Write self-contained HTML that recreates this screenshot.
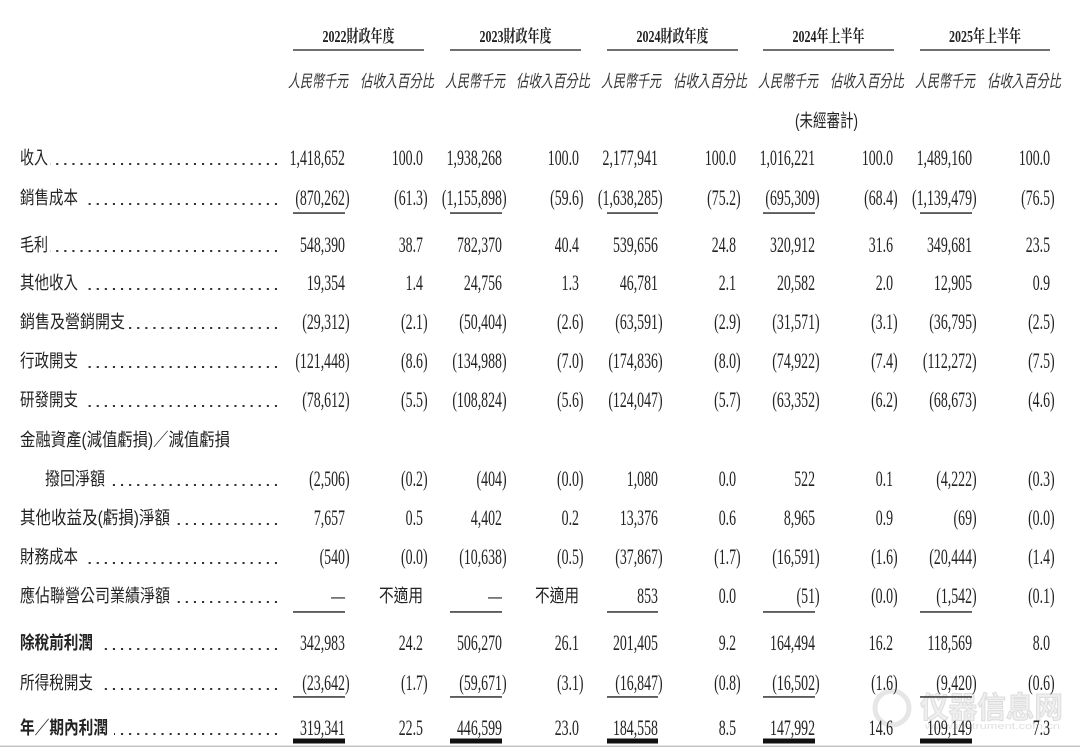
<!DOCTYPE html>
<html>
<head>
<meta charset="utf-8">
<style>
html,body{margin:0;padding:0;background:#fff;}
body{width:1080px;height:749px;overflow:hidden;}
svg{display:block;}
.lab{font-family:"Liberation Sans","Noto Sans CJK TC",sans-serif;font-size:18px;fill:#222;}
.hd{font-family:"Liberation Serif","Noto Serif CJK SC",serif;font-size:17px;font-weight:bold;fill:#222;}
.sub{font-family:"Liberation Serif","Noto Sans CJK TC",sans-serif;font-size:17px;font-style:italic;fill:#333;}
.num{font-family:"Liberation Serif",serif;font-size:22px;fill:#222;}
</style>
</head>
<body>
<svg width="1080" height="749" viewBox="0 0 1080 749" xmlns="http://www.w3.org/2000/svg">
<rect width="1080" height="749" fill="#fff"/>

<!-- watermark -->
<g>
<circle cx="892" cy="708" r="17" fill="none" stroke="#e6e6e6" stroke-width="5"/>
<text x="920" y="718" font-family="Liberation Sans,'Noto Sans CJK SC',sans-serif" font-size="30" font-weight="bold" fill="#efefef" stroke="#dcdcdc" stroke-width="1" textLength="143" lengthAdjust="spacingAndGlyphs">仪器信息网</text>
<text x="925" y="729" font-family="Liberation Sans,sans-serif" font-size="9" fill="#e0e0e0" textLength="135" lengthAdjust="spacingAndGlyphs">www.instrument.com.cn</text>
</g>

<!-- headers -->
<text class="hd" x="322.5" y="42" textLength="72" lengthAdjust="spacingAndGlyphs">2022財政年度</text>
<text class="hd" x="479.5" y="42" textLength="72" lengthAdjust="spacingAndGlyphs">2023財政年度</text>
<text class="hd" x="636.5" y="42" textLength="72" lengthAdjust="spacingAndGlyphs">2024財政年度</text>
<text class="hd" x="792.5" y="42" textLength="72" lengthAdjust="spacingAndGlyphs">2024年上半年</text>
<text class="hd" x="949" y="42" textLength="72" lengthAdjust="spacingAndGlyphs">2025年上半年</text>
<g fill="#333">
<rect x="293" y="49.3" width="131" height="1.4"/>
<rect x="450" y="49.3" width="131" height="1.4"/>
<rect x="607" y="49.3" width="131" height="1.4"/>
<rect x="763" y="49.3" width="131" height="1.4"/>
<rect x="920" y="49.3" width="130" height="1.4"/>
</g>

<!-- sub headers -->
<text class="sub" x="288" y="87" textLength="60" lengthAdjust="spacingAndGlyphs">人民幣千元</text>
<text class="sub" x="360" y="87" textLength="74" lengthAdjust="spacingAndGlyphs">佔收入百分比</text>
<text class="sub" x="445" y="87" textLength="60" lengthAdjust="spacingAndGlyphs">人民幣千元</text>
<text class="sub" x="516" y="87" textLength="74" lengthAdjust="spacingAndGlyphs">佔收入百分比</text>
<text class="sub" x="601" y="87" textLength="60" lengthAdjust="spacingAndGlyphs">人民幣千元</text>
<text class="sub" x="673" y="87" textLength="74" lengthAdjust="spacingAndGlyphs">佔收入百分比</text>
<text class="sub" x="758" y="87" textLength="60" lengthAdjust="spacingAndGlyphs">人民幣千元</text>
<text class="sub" x="830" y="87" textLength="74" lengthAdjust="spacingAndGlyphs">佔收入百分比</text>
<text class="sub" x="915" y="87" textLength="60" lengthAdjust="spacingAndGlyphs">人民幣千元</text>
<text class="sub" x="987" y="87" textLength="74" lengthAdjust="spacingAndGlyphs">佔收入百分比</text>
<text class="lab" x="795" y="127" font-size="17" textLength="63" lengthAdjust="spacingAndGlyphs">(未經審計)</text>

<!-- labels -->
<text class="lab" x="20" y="164" textLength="28" lengthAdjust="spacingAndGlyphs">收入</text>
<text class="lab" x="20" y="204" textLength="58" lengthAdjust="spacingAndGlyphs">銷售成本</text>
<text class="lab" x="20" y="251" textLength="28" lengthAdjust="spacingAndGlyphs">毛利</text>
<text class="lab" x="20" y="289" textLength="58" lengthAdjust="spacingAndGlyphs">其他收入</text>
<text class="lab" x="20" y="328" textLength="105" lengthAdjust="spacingAndGlyphs">銷售及營銷開支</text>
<text class="lab" x="20" y="367" textLength="58" lengthAdjust="spacingAndGlyphs">行政開支</text>
<text class="lab" x="20" y="406" textLength="58" lengthAdjust="spacingAndGlyphs">研發開支</text>
<text class="lab" x="20" y="446" textLength="210" lengthAdjust="spacingAndGlyphs">金融資產(減值虧損)／減值虧損</text>
<text class="lab" x="45" y="485" textLength="60" lengthAdjust="spacingAndGlyphs">撥回淨額</text>
<text class="lab" x="20" y="524" textLength="150" lengthAdjust="spacingAndGlyphs">其他收益及(虧損)淨額</text>
<text class="lab" x="20" y="563" textLength="58" lengthAdjust="spacingAndGlyphs">財務成本</text>
<text class="lab" x="20" y="602" textLength="150" lengthAdjust="spacingAndGlyphs">應佔聯營公司業績淨額</text>
<text class="lab" x="20" y="649" font-weight="bold" textLength="73" lengthAdjust="spacingAndGlyphs">除稅前利潤</text>
<text class="lab" x="20" y="689" textLength="73" lengthAdjust="spacingAndGlyphs">所得稅開支</text>
<text class="lab" x="20" y="734" font-weight="bold" textLength="88" lengthAdjust="spacingAndGlyphs">年／期內利潤</text>

<!-- dot leaders -->
<g stroke="#333" stroke-width="2.1" stroke-dasharray="2.1 6" fill="none">
<line x1="277" y1="164" x2="50" y2="164"/>
<line x1="277" y1="204" x2="86" y2="204"/>
<line x1="277" y1="251" x2="50" y2="251"/>
<line x1="277" y1="289" x2="86" y2="289"/>
<line x1="277" y1="328" x2="127" y2="328"/>
<line x1="277" y1="367" x2="86" y2="367"/>
<line x1="277" y1="406" x2="86" y2="406"/>
<line x1="277" y1="485" x2="111" y2="485"/>
<line x1="277" y1="524" x2="176" y2="524"/>
<line x1="277" y1="563" x2="86" y2="563"/>
<line x1="277" y1="602" x2="176" y2="602"/>
<line x1="277" y1="649" x2="101" y2="649"/>
<line x1="277" y1="689" x2="101" y2="689"/>
<line x1="277" y1="734" x2="114" y2="734"/>
</g>

<!-- 不適用 -->
<text class="lab" x="379" y="602" textLength="44" lengthAdjust="spacingAndGlyphs">不適用</text>
<text class="lab" x="535" y="602" textLength="44" lengthAdjust="spacingAndGlyphs">不適用</text>

<!-- numbers -->
<g transform="scale(0.63,1)" class="num" text-anchor="end">
<text y="165"><tspan x="547.6">1,418,652</tspan><tspan x="671.4">100.0</tspan><tspan x="796.8">1,938,268</tspan><tspan x="919.0">100.0</tspan><tspan x="1044.4">2,177,941</tspan><tspan x="1168.3">100.0</tspan><tspan x="1293.7">1,016,221</tspan><tspan x="1417.5">100.0</tspan><tspan x="1542.9">1,489,160</tspan><tspan x="1666.7">100.0</tspan></text>
<text y="205"><tspan x="554.9">(870,262)</tspan><tspan x="678.7">(61.3)</tspan><tspan x="804.1">(1,155,898)</tspan><tspan x="926.3">(59.6)</tspan><tspan x="1051.7">(1,638,285)</tspan><tspan x="1175.6">(75.2)</tspan><tspan x="1301.0">(695,309)</tspan><tspan x="1424.8">(68.4)</tspan><tspan x="1550.2">(1,139,479)</tspan><tspan x="1674.0">(76.5)</tspan></text>
<text y="252"><tspan x="547.6">548,390</tspan><tspan x="671.4">38.7</tspan><tspan x="796.8">782,370</tspan><tspan x="919.0">40.4</tspan><tspan x="1044.4">539,656</tspan><tspan x="1168.3">24.8</tspan><tspan x="1293.7">320,912</tspan><tspan x="1417.5">31.6</tspan><tspan x="1542.9">349,681</tspan><tspan x="1666.7">23.5</tspan></text>
<text y="290"><tspan x="547.6">19,354</tspan><tspan x="671.4">1.4</tspan><tspan x="796.8">24,756</tspan><tspan x="919.0">1.3</tspan><tspan x="1044.4">46,781</tspan><tspan x="1168.3">2.1</tspan><tspan x="1293.7">20,582</tspan><tspan x="1417.5">2.0</tspan><tspan x="1542.9">12,905</tspan><tspan x="1666.7">0.9</tspan></text>
<text y="329"><tspan x="554.9">(29,312)</tspan><tspan x="678.7">(2.1)</tspan><tspan x="804.1">(50,404)</tspan><tspan x="926.3">(2.6)</tspan><tspan x="1051.7">(63,591)</tspan><tspan x="1175.6">(2.9)</tspan><tspan x="1301.0">(31,571)</tspan><tspan x="1424.8">(3.1)</tspan><tspan x="1550.2">(36,795)</tspan><tspan x="1674.0">(2.5)</tspan></text>
<text y="368"><tspan x="554.9">(121,448)</tspan><tspan x="678.7">(8.6)</tspan><tspan x="804.1">(134,988)</tspan><tspan x="926.3">(7.0)</tspan><tspan x="1051.7">(174,836)</tspan><tspan x="1175.6">(8.0)</tspan><tspan x="1301.0">(74,922)</tspan><tspan x="1424.8">(7.4)</tspan><tspan x="1550.2">(112,272)</tspan><tspan x="1674.0">(7.5)</tspan></text>
<text y="407"><tspan x="554.9">(78,612)</tspan><tspan x="678.7">(5.5)</tspan><tspan x="804.1">(108,824)</tspan><tspan x="926.3">(5.6)</tspan><tspan x="1051.7">(124,047)</tspan><tspan x="1175.6">(5.7)</tspan><tspan x="1301.0">(63,352)</tspan><tspan x="1424.8">(6.2)</tspan><tspan x="1550.2">(68,673)</tspan><tspan x="1674.0">(4.6)</tspan></text>
<text y="486"><tspan x="554.9">(2,506)</tspan><tspan x="678.7">(0.2)</tspan><tspan x="804.1">(404)</tspan><tspan x="926.3">(0.0)</tspan><tspan x="1044.4">1,080</tspan><tspan x="1168.3">0.0</tspan><tspan x="1293.7">522</tspan><tspan x="1417.5">0.1</tspan><tspan x="1550.2">(4,222)</tspan><tspan x="1674.0">(0.3)</tspan></text>
<text y="525"><tspan x="547.6">7,657</tspan><tspan x="671.4">0.5</tspan><tspan x="796.8">4,402</tspan><tspan x="919.0">0.2</tspan><tspan x="1044.4">13,376</tspan><tspan x="1168.3">0.6</tspan><tspan x="1293.7">8,965</tspan><tspan x="1417.5">0.9</tspan><tspan x="1550.2">(69)</tspan><tspan x="1674.0">(0.0)</tspan></text>
<text y="564"><tspan x="554.9">(540)</tspan><tspan x="678.7">(0.0)</tspan><tspan x="804.1">(10,638)</tspan><tspan x="926.3">(0.5)</tspan><tspan x="1051.7">(37,867)</tspan><tspan x="1175.6">(1.7)</tspan><tspan x="1301.0">(16,591)</tspan><tspan x="1424.8">(1.6)</tspan><tspan x="1550.2">(20,444)</tspan><tspan x="1674.0">(1.4)</tspan></text>
<text y="603"><tspan x="547.6">—</tspan><tspan x="796.8">—</tspan><tspan x="1044.4">853</tspan><tspan x="1168.3">0.0</tspan><tspan x="1301.0">(51)</tspan><tspan x="1424.8">(0.0)</tspan><tspan x="1550.2">(1,542)</tspan><tspan x="1674.0">(0.1)</tspan></text>
<text y="650"><tspan x="547.6">342,983</tspan><tspan x="671.4">24.2</tspan><tspan x="796.8">506,270</tspan><tspan x="919.0">26.1</tspan><tspan x="1044.4">201,405</tspan><tspan x="1168.3">9.2</tspan><tspan x="1293.7">164,494</tspan><tspan x="1417.5">16.2</tspan><tspan x="1542.9">118,569</tspan><tspan x="1666.7">8.0</tspan></text>
<text y="690"><tspan x="554.9">(23,642)</tspan><tspan x="678.7">(1.7)</tspan><tspan x="804.1">(59,671)</tspan><tspan x="926.3">(3.1)</tspan><tspan x="1051.7">(16,847)</tspan><tspan x="1175.6">(0.8)</tspan><tspan x="1301.0">(16,502)</tspan><tspan x="1424.8">(1.6)</tspan><tspan x="1550.2">(9,420)</tspan><tspan x="1674.0">(0.6)</tspan></text>
<text y="735"><tspan x="547.6">319,341</tspan><tspan x="671.4">22.5</tspan><tspan x="796.8">446,599</tspan><tspan x="919.0">23.0</tspan><tspan x="1044.4">184,558</tspan><tspan x="1168.3">8.5</tspan><tspan x="1293.7">147,992</tspan><tspan x="1417.5">14.6</tspan><tspan x="1542.9">109,149</tspan><tspan x="1666.7">7.3</tspan></text>
</g>

<!-- underlines -->
<g fill="#333">
<rect x="293" y="212.3" width="52" height="1.5"/>
<rect x="450" y="212.3" width="52" height="1.5"/>
<rect x="607" y="212.3" width="51" height="1.5"/>
<rect x="763" y="212.3" width="52" height="1.5"/>
<rect x="920" y="212.3" width="52" height="1.5"/>

<rect x="293" y="611.2" width="52" height="1.5"/>
<rect x="450" y="611.2" width="52" height="1.5"/>
<rect x="607" y="611.2" width="51" height="1.5"/>
<rect x="763" y="611.2" width="52" height="1.5"/>
<rect x="920" y="611.2" width="52" height="1.5"/>

<rect x="293" y="696.2" width="52" height="1.5"/>
<rect x="450" y="696.2" width="52" height="1.5"/>
<rect x="607" y="696.2" width="51" height="1.5"/>
<rect x="763" y="696.2" width="52" height="1.5"/>
<rect x="920" y="696.2" width="52" height="1.5"/>
</g>
<g fill="#111">
<rect x="293" y="738.5" width="52" height="5"/>
<rect x="450" y="738.5" width="52" height="5"/>
<rect x="607" y="738.5" width="51" height="5"/>
<rect x="763" y="738.5" width="52" height="5"/>
<rect x="920" y="738.5" width="52" height="5"/>
</g>

<!-- bottom border -->
<rect x="0" y="745.5" width="1080" height="1.5" fill="#c4c4c4"/>
</svg>
</body>
</html>
